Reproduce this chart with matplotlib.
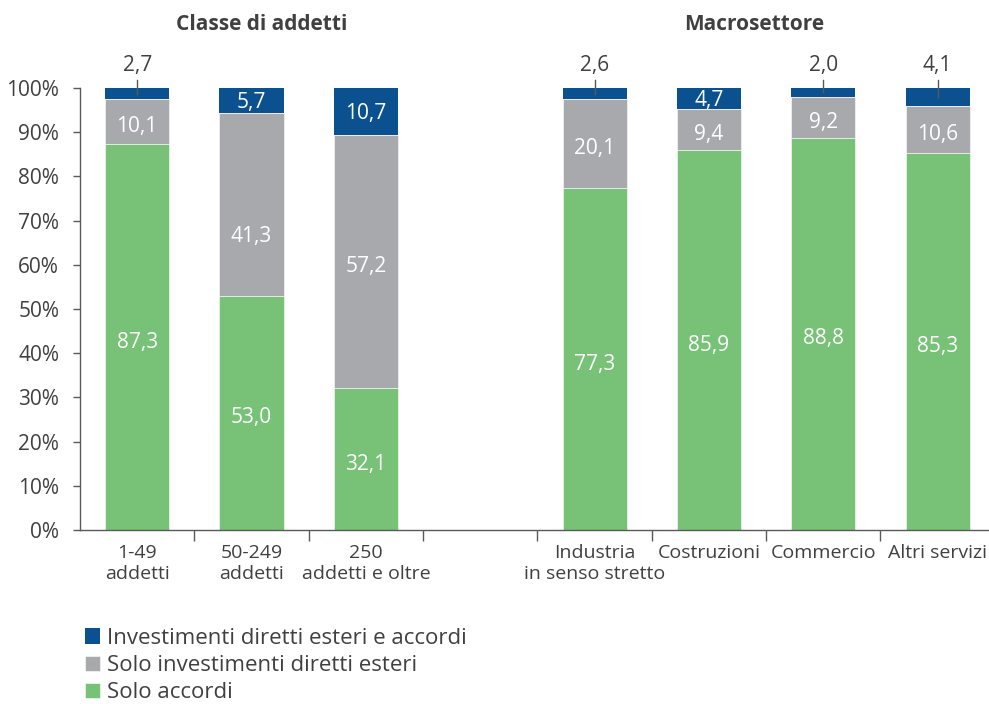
import matplotlib.pyplot as plt
import matplotlib.transforms as mtransforms
import numpy as np

plt.rcParams['font.family'] = ['Open Sans', 'DejaVu Sans']

# quote per classe di addetti e macrosettore (%)
categorie = ['1-49\naddetti', '50-249\naddetti', '250\naddetti e oltre',
             'Industria\nin senso stretto', 'Costruzioni', 'Commercio', 'Altri servizi']
slot = [0, 1, 2, 4, 5, 6, 7]
solo_accordi = [87.3, 53.0, 32.1, 77.3, 85.9, 88.8, 85.3]
solo_ide = [10.1, 41.3, 57.2, 20.1, 9.4, 9.2, 10.6]
ide_accordi = [2.7, 5.7, 10.7, 2.6, 4.7, 2.0, 4.1]

verde = '#78c278'
grigio = '#a8a9ad'
blu = '#0c518f'
testo = '#404040'


def fmt(v):
    return f'{v:.1f}'.replace('.', ',')


fig = plt.figure(figsize=(9.89, 7.04), dpi=100)
ax = fig.add_axes([80 / 989, 174 / 704, 909 / 989, 442 / 704])

x = np.array(slot)
w = 0.56
b1 = ax.bar(x, solo_accordi, w, color=verde, edgecolor='white', linewidth=0.4, label='Solo accordi')
b2 = ax.bar(x, solo_ide, w, bottom=solo_accordi, color=grigio, edgecolor='white', linewidth=0.4,
            label='Solo investimenti diretti esteri')
base3 = np.array(solo_accordi) + np.array(solo_ide)
b3 = ax.bar(x, ide_accordi, w, bottom=base3, color=blu, edgecolor='none',
            label='Investimenti diretti esteri e accordi')

# etichette interne leggermente abbassate
giu = mtransforms.offset_copy(ax.transData, fig=fig, x=0, y=-5, units='dots')
giu_molto = mtransforms.offset_copy(ax.transData, fig=fig, x=0, y=-32, units='dots')

for i, xi in enumerate(x):
    ax.text(xi, solo_accordi[i] / 2, fmt(solo_accordi[i]), ha='center', va='center',
            color='white', fontsize=15, transform=giu)
    tr = giu_molto if solo_ide[i] > 40 and solo_ide[i] < 50 else giu
    ax.text(xi, solo_accordi[i] + solo_ide[i] / 2, fmt(solo_ide[i]), ha='center', va='center',
            color='white', fontsize=15, transform=tr)
    v = ide_accordi[i]
    mid = base3[i] + v / 2
    if v >= 4.5:
        ax.text(xi, mid, fmt(v), ha='center', va='center', color='white', fontsize=15,
                transform=mtransforms.offset_copy(ax.transData, fig=fig, x=0, y=-2, units='dots'))
    else:
        # valori piccoli sopra la barra con linea di richiamo
        ax.plot([xi, xi], [mid, 101.9], color='#595959', lw=1, clip_on=False)
        ax.text(xi, 103.8, fmt(v), ha='center', va='baseline', color=testo, fontsize=15, clip_on=False)

ax.set_xlim(-0.5, 7.45)
ax.set_ylim(0, 100)
ax.set_yticks(np.arange(0, 101, 10))
ax.set_yticklabels([f'{t}%' for t in range(0, 101, 10)])
ax.set_xticks(x)
ax.set_xticklabels(categorie)
ax.set_xticks(np.arange(0.5, 7, 1), minor=True)
ax.tick_params(axis='x', which='major', length=0, pad=10, labelsize=14, labelcolor=testo)
ax.tick_params(axis='x', which='minor', length=8, width=1, color='#595959', direction='out')
ax.tick_params(axis='y', length=5, width=1, color='#595959', labelsize=15, labelcolor=testo, pad=10)
for s in ['top', 'right']:
    ax.spines[s].set_visible(False)
for s in ['left', 'bottom']:
    ax.spines[s].set_color('#595959')
    ax.spines[s].set_linewidth(1)

fig.text(262 / 989, 1 - 25 / 704, 'Classe di addetti', ha='center', va='center',
         fontsize=15, fontweight='bold', color=testo)
fig.text(754 / 989, 1 - 25 / 704, 'Macrosettore', ha='center', va='center',
         fontsize=15, fontweight='bold', color=testo)

fig.legend([b3, b2, b1], [b3.get_label(), b2.get_label(), b1.get_label()],
           loc='upper left', bbox_to_anchor=(76 / 989, 1 - 619 / 704), frameon=False,
           fontsize=16, handlelength=0.7, handleheight=0.7, handletextpad=0.3,
           labelspacing=0.28, labelcolor=testo, borderaxespad=0)

fig.savefig('out.png', dpi=100)
